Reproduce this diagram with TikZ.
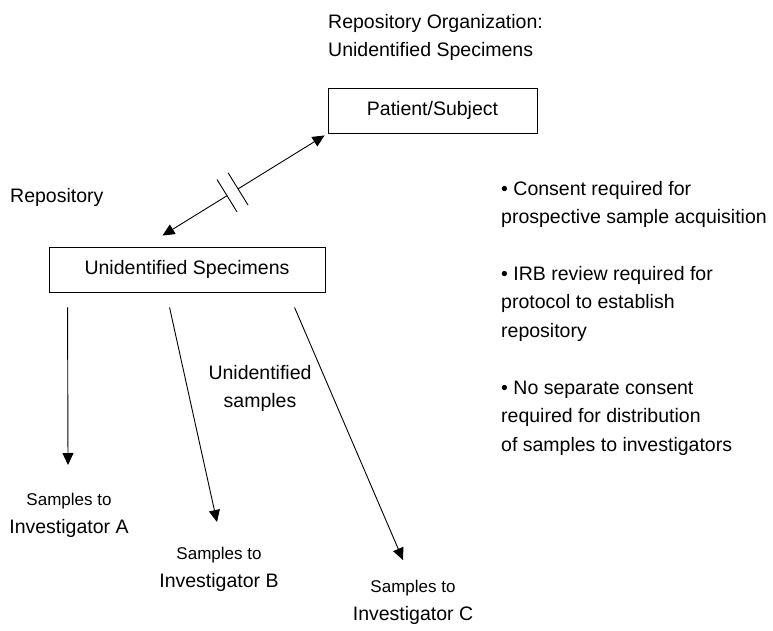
\documentclass[tikz,border=0pt]{standalone}
\usepackage{fontspec}
\setmainfont{Liberation Sans}
\usetikzlibrary{arrows.meta,calc}
\begin{document}
\begin{tikzpicture}[x=1pt,y=-1pt,
  txt/.style={font=\fontsize{19.5}{28.5}\selectfont, inner sep=0pt},
  lab/.style={font=\fontsize{19.5}{27.5}\selectfont, inner sep=0pt, align=center, anchor=base},
  box/.style={draw, line width=0.9pt, inner sep=0pt, minimum height=45pt, font=\fontsize{19.5}{24}\selectfont},
  arr/.style={line width=0.9pt, -{Triangle[length=12pt,width=11pt]}},
  brk/.style={line width=0.9pt}]
\useasboundingbox (0,0) rectangle (773,631);

% title and boxes (base anchor = baseline of the last line)
\node[txt, anchor=base west, align=left, font=\fontsize{19.5}{28}\selectfont] (title) at (328,57) {Repository Organization:\\Unidentified Specimens};
\node[box, minimum width=209pt] (ps) at (432.5,110.5) {Patient/Subject};
\node[txt, anchor=base west] (repo) at (10,202) {Repository};
\node[box, minimum width=276pt] (us) at (187,269.5) {Unidentified Specimens};
\node[lab] (uslab) at (260,407) {Unidentified\\samples};

% investigator labels
\node[lab] (ia) at (69,533) {{\fontsize{17}{27.5}\selectfont Samples to}\\Investigator A};
\node[lab] (ib) at (219,587) {{\fontsize{17}{27.5}\selectfont Samples to}\\Investigator B};
\node[lab] (ic) at (413,620) {{\fontsize{17}{27.5}\selectfont Samples to}\\Investigator C};

% bullets
\node[txt, anchor=base west, align=left] (b1) at (501,223.5) {• Consent required for\\prospective sample acquisition};
\node[txt, anchor=base west, align=left] (b2) at (501,337) {• IRB review required for\\protocol to establish\\repository};
\node[txt, anchor=base west, align=left] (b3) at (501,451) {• No separate consent\\required for distribution\\of samples to investigators};

% broken double arrow
\coordinate (p1) at ($(ps.south west)+(-3,2)$);
\coordinate (u1) at ($(us.north west)+(114,-11)$);
\coordinate (m1) at ($(u1)!0.398!(p1)$);
\coordinate (m2) at ($(u1)!0.466!(p1)$);
\draw[arr] (m1) -- (u1);
\draw[arr] (m2) -- (p1);
\draw[brk] ($(m1)!19pt!90:(u1)$) -- ($(m1)!19pt!-90:(u1)$);
\draw[brk] ($(m2)!19pt!90:(u1)$) -- ($(m2)!19pt!-90:(u1)$);

% distribution arrows
\coordinate (sa) at ($(us.south west)+(19,15)$);
\coordinate (sb) at ($(us.south west)+(121,15)$);
\coordinate (sc) at ($(us.south west)+(246,15)$);
\coordinate (ta) at (68,465);
\coordinate (tb) at (217,522);
\coordinate (tc) at (403,560);
\draw[arr] (sa) -- (ta);
\draw[arr] (sb) -- (tb);
\draw[arr] (sc) -- (tc);
\end{tikzpicture}
\end{document}
